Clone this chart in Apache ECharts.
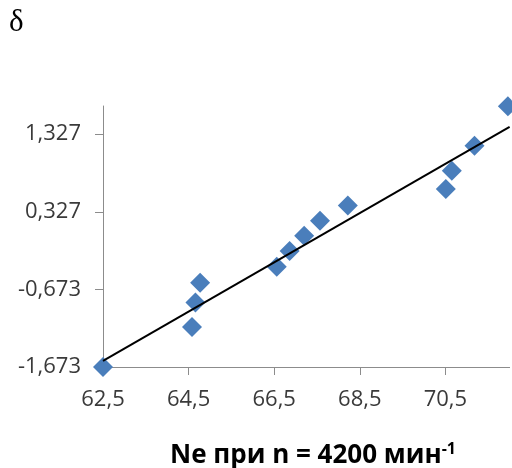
<!DOCTYPE html>
<html>
<head>
<meta charset="utf-8">
<script src="https://cdn.jsdelivr.net/npm/echarts@6/dist/echarts.min.js"></script>
<style>html,body{margin:0;padding:0;background:#fff}#c{width:512px;height:468px}</style>
</head>
<body>
<div id="c"></div>
<script>
// Data
var xValues = [62.5, 64.58, 64.66, 64.77, 66.56, 66.86, 67.20, 67.57, 68.22, 70.51, 70.65, 71.18, 71.96];
var yValues = [-1.673, -1.156, -0.841, -0.588, -0.381, -0.178, 0.019, 0.213, 0.407, 0.619, 0.855, 1.178, 1.686];
var trendX = [62.5, 72.0];
var trendY = [-1.595, 1.420];
var yTicks = [-1.673, -0.673, 0.327, 1.327];
var xTicks = [62.5, 64.5, 66.5, 68.5, 70.5];
var yLabel = 'δ';
var xTitle = 'Ne при n = 4200 мин';
var xTitleSup = '-1';

var pts = xValues.map(function (x, i) { return [x, yValues[i]]; });
var trend = trendX.map(function (x, i) { return [x, trendY[i]]; });
function fmt(d) { return function (v) { return Number(v).toFixed(d).replace('.', ','); }; }

var chart = echarts.init(document.getElementById('c'));
chart.setOption({
  animation: false,
  backgroundColor: '#fff',
  grid: { left: 103, top: 106, right: 2.4, bottom: 101, containLabel: false },
  xAxis: {
    type: 'value', min: 62.5, max: 72.0, interval: 2,
    axisLine: { show: true, onZero: false, lineStyle: { color: '#8c8c8c', width: 1 } },
    axisTick: { show: true, length: 8, lineStyle: { color: '#8c8c8c' }, customValues: xTicks },
    axisLabel: { customValues: xTicks, formatter: fmt(1), margin: 22, color: '#3a3a3a', fontFamily: 'Open Sans', fontSize: 22 },
    splitLine: { show: false }
  },
  yAxis: {
    type: 'value', min: -1.673, max: 1.69, interval: 1,
    axisLine: { show: true, onZero: false, lineStyle: { color: '#8c8c8c', width: 1 } },
    axisTick: { show: true, length: 8, lineStyle: { color: '#8c8c8c' }, customValues: yTicks },
    axisLabel: { customValues: yTicks, formatter: fmt(3), margin: 22, color: '#3a3a3a', fontFamily: 'Open Sans', fontSize: 22 },
    splitLine: { show: false }
  },
  graphic: [
    { type: 'text', left: 9, top: 7, style: { text: yLabel, font: '31px "Liberation Serif"', fill: '#000' } },
    { type: 'text', x: 313, y: 456, style: {
        text: '{m|' + xTitle + '}{s|' + xTitleSup + '}', align: 'center', verticalAlign: 'middle',
        rich: {
          m: { fontFamily: 'Open Sans', fontWeight: 'bold', fontSize: 26, fill: '#000', color: '#000' },
          s: { fontFamily: 'Open Sans', fontWeight: 'bold', fontSize: 16, fill: '#000', color: '#000', verticalAlign: 'top', padding: [0, 0, 14, 0] }
        }
      } }
  ],
  series: [
    { type: 'scatter', data: pts, symbol: 'diamond', symbolSize: 20, clip: false,
      itemStyle: { color: '#4a7ebb', opacity: 1 }, z: 2 },
    { type: 'line', data: trend, symbol: 'none', clip: false,
      lineStyle: { color: '#000', width: 2 }, z: 3 }
  ]
});
</script>
</body>
</html>
